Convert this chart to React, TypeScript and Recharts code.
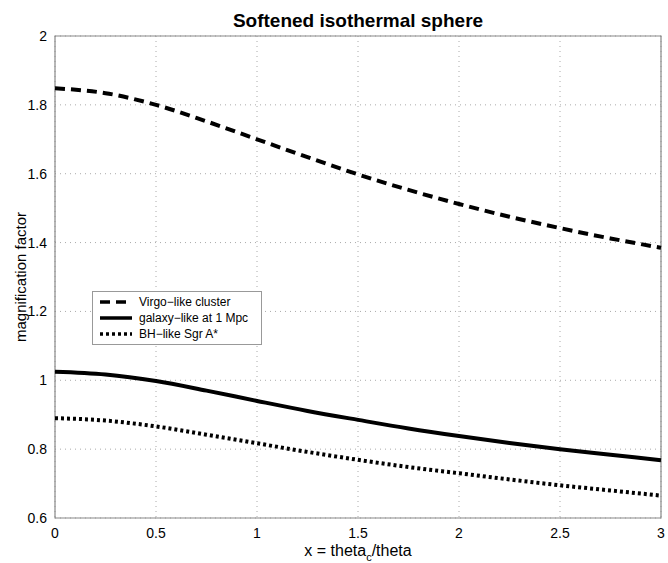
import { CartesianGrid, Line, LineChart, ReferenceArea, XAxis, YAxis } from "recharts";

const xValues = [0, 0.25, 0.5, 0.75, 1, 1.25, 1.5, 1.75, 2, 2.25, 2.5, 2.75, 3];
const virgo = [1.848, 1.834, 1.8, 1.752, 1.7, 1.648, 1.598, 1.553, 1.512, 1.475, 1.442, 1.412, 1.385];
const galaxy = [1.025, 1.017, 0.998, 0.97, 0.94, 0.911, 0.885, 0.86, 0.838, 0.818, 0.8, 0.784, 0.768];
const bhSgr = [0.89, 0.883, 0.866, 0.842, 0.817, 0.792, 0.769, 0.748, 0.73, 0.712, 0.695, 0.68, 0.665];
const xTicks = [0, 0.5, 1, 1.5, 2, 2.5, 3];
const yTicks = [0.6, 0.8, 1, 1.2, 1.4, 1.6, 1.8, 2];

const seriesInfo = [
  { key: "virgo", name: "Virgo\u2212like cluster", dash: "10 6" },
  { key: "galaxy", name: "galaxy\u2212like at 1 Mpc", dash: undefined },
  { key: "bh", name: "BH\u2212like Sgr A*", dash: "3 3" },
];

const data = xValues.map((x, i) => ({ x, virgo: virgo[i], galaxy: galaxy[i], bh: bhSgr[i] }));

const font = "'Liberation Sans', Arial, sans-serif";

function LegendBox() {
  return (
    <div
      style={{
        position: "absolute",
        left: 92,
        top: 291,
        background: "#fff",
        border: "1px solid #999",
        padding: "2px 6px",
        fontFamily: font,
        fontSize: 12,
        color: "#000",
        width: 156,
      }}
    >
      {seriesInfo.map((s) => (
        <div key={s.key} style={{ display: "flex", alignItems: "center", height: 16 }}>
          <svg width={34} height={8} style={{ marginRight: 6 }}>
            <line x1={1} y1={4} x2={33} y2={4} stroke="#000" strokeWidth={3.5} strokeDasharray={s.dash} />
          </svg>
          <span>{s.name}</span>
        </div>
      ))}
    </div>
  );
}

function XLabel(props: any) {
  const vb = props.viewBox;
  const cx = vb.x + vb.width / 2;
  return (
    <text x={cx} y={vb.y + 38} textAnchor="middle" fontFamily={font} fontSize={16} fill="#000">
      x = theta
      <tspan fontSize={11} dy={5}>c</tspan>
      <tspan dy={-5}>/theta</tspan>
    </text>
  );
}

export default function App() {
  return (
    <div style={{ position: "absolute", left: 0, top: 0, width: 668, height: 563, background: "#fff" }}>
      <div
        style={{
          position: "absolute",
          left: 55,
          width: 606,
          top: 10,
          textAlign: "center",
          fontFamily: font,
          fontWeight: "bold",
          fontSize: 19,
          color: "#000",
        }}
      >
        Softened isothermal sphere
      </div>
      <LineChart width={668} height={563} data={data} margin={{ top: 36, right: 7, bottom: 0, left: 0 }}>
        <CartesianGrid stroke="#aaa" strokeDasharray="1 4" />
        <XAxis
          dataKey="x"
          type="number"
          domain={[0, 3]}
          ticks={xTicks}
          height={45}
          axisLine={false}
          tickLine={false}
          tick={{ fontFamily: font, fontSize: 14, fill: "#000" }}
          tickMargin={4}
          label={<XLabel />}
        />
        <YAxis
          type="number"
          domain={[0.6, 2]}
          ticks={yTicks}
          width={55}
          axisLine={false}
          tickLine={false}
          tick={{ fontFamily: font, fontSize: 14, fill: "#000" }}
          tickFormatter={(v: number) => String(Number(v.toFixed(1)))}
          tickMargin={2}
          label={{
            value: "magnification factor",
            angle: -90,
            position: "insideLeft",
            offset: 21,
            style: { fontFamily: font, fontSize: 15, fill: "#000", textAnchor: "middle" },
          }}
        />
        <ReferenceArea x1={0} x2={3} y1={0.6} y2={2} fill="none" stroke="#888" strokeWidth={1.2} />
        {seriesInfo.map((s) => (
          <Line
            key={s.key}
            type="monotone"
            dataKey={s.key}
            name={s.name}
            stroke="#000"
            strokeWidth={4}
            strokeDasharray={s.dash}
            dot={false}
            isAnimationActive={false}
          />
        ))}
      </LineChart>
      <LegendBox />
    </div>
  );
}
